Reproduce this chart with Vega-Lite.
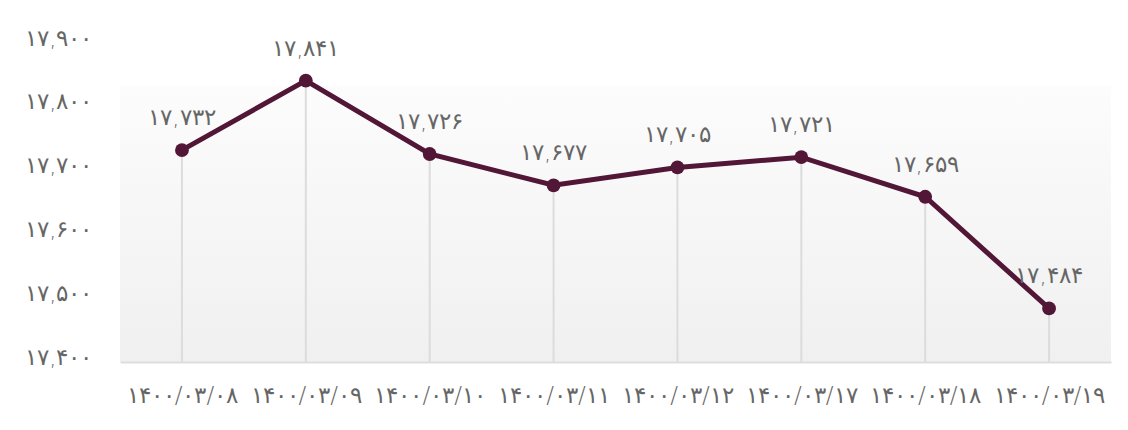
{
  "$schema": "https://vega.github.io/schema/vega-lite/v6.json",
  "width": 991,
  "height": 319,
  "autosize": "none",
  "padding": {"left": 120, "top": 43, "right": 17, "bottom": 68},
  "background": "white",
  "config": {
    "locale": {
      "number": {
        "decimal": ".",
        "thousands": ",",
        "grouping": [3],
        "currency": ["", ""],
        "numerals": ["۰", "۱", "۲", "۳", "۴", "۵", "۶", "۷", "۸", "۹"]
      }
    },
    "font": "DejaVu Sans",
    "axis": {"labelFontWeight": 200},
    "text": {"fontWeight": 200},
    "view": {
      "stroke": null,
      "fill": {
        "gradient": "linear",
        "x1": 0, "y1": 0, "x2": 0, "y2": 1,
        "stops": [
          {"offset": 0, "color": "#ffffff"},
          {"offset": 0.13, "color": "#ffffff"},
          {"offset": 0.14, "color": "#fcfcfc"},
          {"offset": 1, "color": "#f0f0f0"}
        ]
      }
    }
  },
  "data": {
    "values": [
      {"date": "۱۴۰۰/۰۳/۰۸", "value": 17732},
      {"date": "۱۴۰۰/۰۳/۰۹", "value": 17841},
      {"date": "۱۴۰۰/۰۳/۱۰", "value": 17726},
      {"date": "۱۴۰۰/۰۳/۱۱", "value": 17677},
      {"date": "۱۴۰۰/۰۳/۱۲", "value": 17705},
      {"date": "۱۴۰۰/۰۳/۱۷", "value": 17721},
      {"date": "۱۴۰۰/۰۳/۱۸", "value": 17659},
      {"date": "۱۴۰۰/۰۳/۱۹", "value": 17484}
    ]
  },
  "encoding": {
    "x": {
      "field": "date",
      "type": "ordinal",
      "sort": null,
      "scale": {"type": "point", "padding": 0.5},
      "axis": {
        "title": null,
        "labelAngle": 0,
        "labelFontSize": 23,
        "labelColor": "#666666",
        "labelPadding": 22,
        "ticks": false,
        "domainColor": "#dddddd",
        "domainWidth": 2,
        "grid": false
      }
    },
    "y": {
      "field": "value",
      "type": "quantitative",
      "scale": {"domain": [17400, 17900], "nice": false, "zero": false},
      "axis": {
        "title": null,
        "values": [17400, 17500, 17600, 17700, 17800, 17900],
        "format": ",.0f",
        "labelFontSize": 23,
        "labelColor": "#666666",
        "labelPadding": 28,
        "labelOffset": -5,
        "ticks": false,
        "domain": false,
        "grid": false
      }
    }
  },
  "layer": [
    {
      "mark": {"type": "rule", "color": "#dcdcdc", "strokeWidth": 2},
      "encoding": {"y2": {"datum": 17400}}
    },
    {
      "mark": {"type": "line", "color": "#521637", "strokeWidth": 5}
    },
    {
      "mark": {"type": "point", "filled": true, "color": "#521637", "size": 190, "opacity": 1}
    },
    {
      "mark": {"type": "text", "dy": -32, "fontSize": 23, "color": "#666666"},
      "encoding": {"text": {"field": "value", "type": "quantitative", "format": ",.0f"}}
    }
  ]
}
